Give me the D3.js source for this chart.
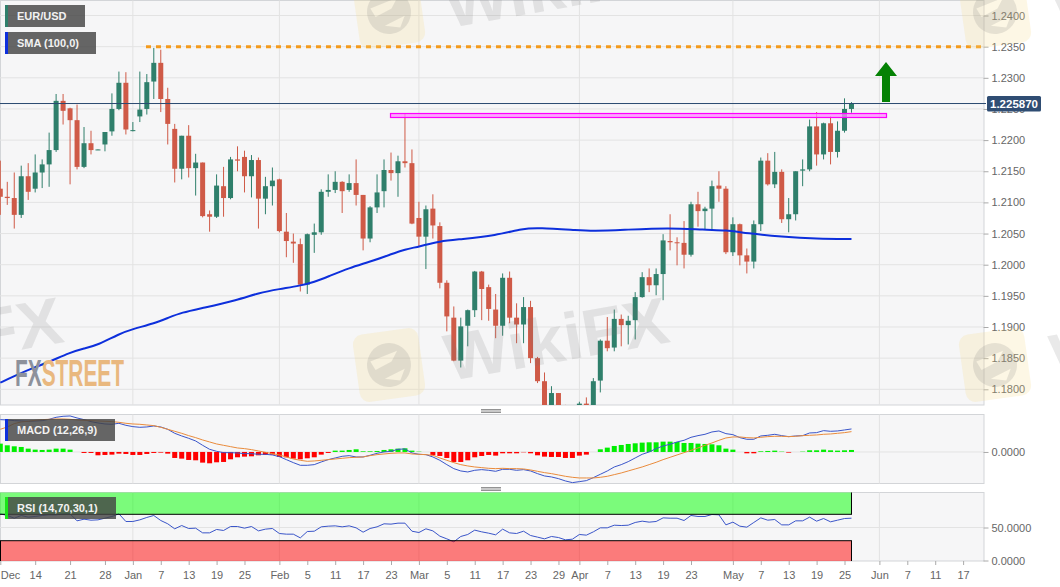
<!DOCTYPE html>
<html>
<head>
<meta charset="utf-8">
<script src="https://cdn.jsdelivr.net/npm/d3@7"></script>
<style>
  html, body { margin: 0; padding: 0; background: #fff; overflow: hidden; }
  text { font-family: "Liberation Sans", Arial, sans-serif; }
  .axis path { display: none; }
  .axis line { stroke: #aaa; }
  .axis text { fill: #666; font-size: 11px; }
</style>
</head>
<body>
<div id="chart"></div>
<script>
// daily candles, one entry per bar
var opens = [
  1.2122,1.2109,1.2107,1.2080,1.2142,1.2122,1.2148,1.2161,1.2184,1.2263,
  1.2251,1.2232,1.2157,1.2195,1.2184,1.2193,1.2214,1.2250,1.2292,1.2215,
  1.2238,1.2250,1.2294,1.2324,1.2266,1.2218,1.2154,1.2207,1.2155,1.2164,
  1.2081,1.2077,1.2126,1.2107,1.2169,1.2173,1.2142,1.2168,1.2106,1.2126,
  1.2137,1.2053,1.2037,1.2033,1.1968,1.2048,1.2052,1.2117,1.2120,1.2133,
  1.2120,1.2131,1.2112,1.2042,1.2092,1.2118,1.2152,1.2147,1.2166,1.2163,
  1.2075,1.2045,1.2090,1.2062,1.1971,1.1915,1.1846,1.1902,1.1927,1.1989,
  1.1964,1.1928,1.1902,1.1979,1.1915,1.1904,1.1932,1.1850,1.1813,1.1760,
  1.1794,1.1772,1.1745,1.1755,1.1777,1.1762,1.1814,1.1878,1.1867,1.1913,
  1.1903,1.1911,1.1948,1.1980,1.1967,1.1985,1.2038,1.2036,1.2035,1.2016,
  1.2097,1.2086,1.2090,1.2127,1.2122,1.2020,1.2065,1.2015,1.2005,1.2065,
  1.2167,1.2129,1.2149,1.2073,1.2081,1.2151,1.2153,1.2222,1.2177,1.2227,
  1.2181,1.2215,1.2250];
var highs = [
  1.2167,1.2133,1.2148,1.2159,1.2163,1.2177,1.2169,1.2212,1.2274,1.2274,
  1.2252,1.2257,1.2221,1.2215,1.2185,1.2213,1.2275,1.2310,1.2309,1.2229,
  1.2310,1.2306,1.2348,1.2345,1.2284,1.2226,1.2207,1.2224,1.2178,1.2164,
  1.2087,1.2145,1.2157,1.2173,1.2190,1.2183,1.2176,1.2172,1.2141,1.2156,
  1.2138,1.2083,1.2050,1.2042,1.2050,1.2066,1.2121,1.2145,1.2150,1.2134,
  1.2145,1.2169,1.2112,1.2094,1.2145,1.2169,1.2180,1.2175,1.2242,1.2185,
  1.2101,1.2095,1.2113,1.2068,1.1975,1.1933,1.1915,1.1928,1.1990,1.1990,
  1.1968,1.1953,1.1986,1.1989,1.1938,1.1948,1.1942,1.1852,1.1827,1.1805,
  1.1794,1.1775,1.1770,1.1780,1.1787,1.1818,1.1880,1.1916,1.1928,1.1920,
  1.1918,1.1956,1.1988,1.1994,1.1994,1.2049,1.2081,1.2044,1.2070,1.2101,
  1.2117,1.2093,1.2135,1.2150,1.2126,1.2076,1.2066,1.2026,1.2071,1.2172,
  1.2179,1.2181,1.2153,1.2107,1.2150,1.2169,1.2233,1.2245,1.2228,1.2238,
  1.2230,1.2267,1.2261];
var lows = [
  1.2080,1.2096,1.2058,1.2075,1.2104,1.2116,1.2123,1.2125,1.2181,1.2225,
  1.2129,1.2153,1.2155,1.2177,1.2184,1.2182,1.2207,1.2248,1.2209,1.2214,
  1.2229,1.2241,1.2266,1.2245,1.2193,1.2132,1.2137,1.2140,1.2111,1.2076,
  1.2053,1.2075,1.2077,1.2105,1.2150,1.2116,1.2108,1.2058,1.2081,1.2095,
  1.2052,1.2012,1.2003,1.1957,1.1953,1.2019,1.2048,1.2109,1.2115,1.2083,
  1.2117,1.2095,1.2023,1.2036,1.2083,1.2092,1.2135,1.2109,1.2156,1.2065,
  1.2029,1.1993,1.2042,1.1962,1.1893,1.1845,1.1835,1.1869,1.1916,1.1911,
  1.1910,1.1882,1.1886,1.1906,1.1874,1.1874,1.1842,1.1810,1.1750,1.1748,
  1.1745,1.1740,1.1735,1.1748,1.1755,1.1752,1.1795,1.1861,1.1861,1.1869,
  1.1872,1.1880,1.1947,1.1956,1.1951,1.1943,1.2023,1.1999,1.1994,1.2013,
  1.2061,1.2057,1.2057,1.2101,1.2017,1.2014,1.1999,1.1986,1.1994,1.2054,
  1.2127,1.2123,1.2067,1.2052,1.2071,1.2126,1.2150,1.2159,1.2169,1.2161,
  1.2172,1.2212,1.2244];
var closes = [
  1.2109,1.2107,1.2080,1.2142,1.2117,1.2148,1.2161,1.2184,1.2263,1.2247,
  1.2232,1.2157,1.2195,1.2184,1.2185,1.2213,1.2250,1.2292,1.2217,1.2216,
  1.2249,1.2293,1.2324,1.2266,1.2226,1.2154,1.2207,1.2155,1.2164,1.2078,
  1.2077,1.2127,1.2107,1.2169,1.2167,1.2142,1.2168,1.2106,1.2126,1.2135,
  1.2054,1.2038,1.2034,1.1968,1.2049,1.2052,1.2117,1.2120,1.2133,1.2118,
  1.2131,1.2112,1.2042,1.2092,1.2116,1.2152,1.2147,1.2166,1.2163,1.2066,
  1.2045,1.2089,1.2063,1.1971,1.1917,1.1846,1.1901,1.1927,1.1989,1.1961,
  1.1929,1.1902,1.1979,1.1915,1.1904,1.1932,1.1850,1.1813,1.1760,1.1794,
  1.1755,1.1745,1.1755,1.1777,1.1762,1.1813,1.1878,1.1866,1.1913,1.1903,
  1.1910,1.1948,1.1980,1.1967,1.1985,1.2039,1.2036,1.2035,1.2016,1.2097,
  1.2086,1.2090,1.2126,1.2122,1.2020,1.2065,1.2015,1.2005,1.2065,1.2167,
  1.2129,1.2149,1.2073,1.2081,1.2150,1.2153,1.2222,1.2177,1.2227,1.2181,
  1.2215,1.2250,1.22587];

// SMA (100,0) read at these bars
var smaBars = [0,2,5,7,10,12,14,17,19,22,24,26,29,34,37,40,43,45,47,50,53,56,58,60,63,66,71,75,77,83,85,89,96,101,104,107,112,117,122];
var smaValues = [1.18106,1.18213,1.18358,1.18438,1.18591,1.18655,1.18711,1.18888,1.18968,1.19056,1.19144,1.19233,1.19305,1.19433,1.19546,1.1961,1.19663,1.19722,1.19811,1.19947,1.20048,1.20167,1.20247,1.20289,1.2038,1.20408,1.20469,1.20584,1.20594,1.20552,1.20541,1.20557,1.20594,1.20557,1.20557,1.20504,1.2045,1.20417,1.20413];

// MACD (12,26,9), in 1e-5
var macdLine = [
  97,96,94,93,92,93,94,98,104,107,108,102,97,91,87,84,83,86,80,76,
  74,75,78,75,68,56,48,41,33,20,8,2,-2,-2,-3,-5,-5,-7,-7,-9,
  -14,-23,-32,-40,-40,-38,-30,-23,-18,-13,-11,-15,-15,-10,-4,0,2,8,9,-3,
  -7,-8,-15,-25,-38,-50,-57,-60,-55,-53,-55,-58,-52,-52,-55,-53,-57,-65,-72,-75,
  -80,-87,-92,-89,-86,-77,-67,-57,-45,-38,-29,-18,-7,0,10,18,23,30,35,44,
  49,53,60,63,55,52,43,38,38,48,50,53,49,46,48,49,57,58,64,62,
  63,66,69];
var signalLine = [
  68,75,85,90,92,95,97,98,99,99,98,96,95,94,93,92,91,89,86,84,
  83,81,79,74,68,62,56,49,43,36,30,24,20,16,12,10,7,3,-1,-5,
  -9,-15,-21,-25,-28,-27,-25,-23,-21,-19,-17,-16,-15,-11,-8,-6,-4,-3,-3,-6,
  -7,-8,-10,-18,-25,-32,-38,-42,-45,-47,-49,-50,-49,-50,-50,-51,-54,-58,-62,-65,
  -69,-73,-76,-78,-78,-78,-76,-73,-68,-63,-57,-51,-45,-38,-31,-23,-16,-9,-2,5,
  12,20,27,35,42,45,45,43,42,44,46,47,47,46,47,49,50,51,53,54,
  56,58,61];
var macdHist = [
  25,20,17,15,10,7,6,7,10,10,7,0,-3,-3,-10,-9,-8,-5,-6,-9,
  -9,-6,-3,-2,-5,-18,-20,-24,-25,-32,-34,-31,-30,-22,-16,-14,-13,-10,-9,-8,
  -15,-16,-20,-22,-19,-16,-8,-3,4,4,6,8,2,2,3,6,8,10,11,4,
  1,0,-10,-12,-18,-30,-30,-25,-16,-12,-9,-11,-4,-4,-4,-1,-4,-10,-14,-15,
  -15,-18,-18,-11,-8,0,8,13,18,21,24,26,28,29,29,31,31,30,27,27,
  25,24,23,20,10,7,0,-4,-4,2,3,4,1,-2,0,1,5,5,7,5,
  4,5,6];

// RSI (14,70,30,1)
var rsiValues = [
  70.7,68.2,64.1,68.2,65.7,66.7,68.2,69.2,69.2,70.7,70.7,60.1,62.6,61.1,61.6,64.1,66.7,70.7,59.1,59.1,
  61.6,65.2,68.2,60.6,55.6,48,53,48.5,49,41.9,41.9,47,45.5,51.5,51.5,49,51.5,44.9,47.5,48.5,
  40.9,39.9,39.9,34.3,43.9,44.4,51,52,52.5,51,52.5,49.5,42.9,48.5,51,55.6,55.1,56.6,56.6,44.4,
  42.4,48,44.9,36.9,32.8,28.3,36.4,39.4,46,43.4,41.4,38.9,47.5,41.9,40.9,44.4,37.9,35.4,32.8,36.4,
  34.8,31.3,32.3,39.4,38.4,43.4,49.5,49.5,53.5,53,53.5,57.6,59.6,58.1,59.1,64.6,64.1,64.1,60.6,68.2,
  66.7,66.7,69.7,69.2,54,58.1,52,50.5,57.6,64.6,61.1,62.1,54,54,60.1,60.1,65.7,59.6,63.6,58.6,
  61.1,63.6,64.1];

// time axis labels, by bar number
var tickBars = [0,5,10,15,19,23,27,31,35,40,44,48,52,56,60,64,68,72,76,80,83,87,91,95,99,105,109,113,117,121,126,130,134,138];
var tickLabels = ["Dec","14","21","28","Jan","7","13","19","25","Feb","5","11","17","23","Mar","5","11","17","23","29","Apr","7","13","19","23","May","7","13","19","25","Jun","7","11","17"];
var monthBars = [0,19,40,60,83,105,126];

var priceTicks = [1.24,1.235,1.23,1.225,1.22,1.215,1.21,1.205,1.20,1.195,1.19,1.185,1.18];
var lastPrice = 1.22587;
var resistance = 1.235;
var support = 1.224;

var width = 1060, height = 587, plotRight = 983.5;
var greenCandle = "#2f7f6b", redCandle = "#cf5a47";

var svg = d3.select("#chart").append("svg")
    .attr("width", width)
    .attr("height", height)
    .style("display", "block");

var x = d3.scaleLinear().domain([0, 143]).range([0.3, 998]);
var y = d3.scaleLinear().domain([1.24, 1.18]).range([15.5, 389.3]);
var yMacd = d3.scaleLinear().domain([-94, 110]).range([483.3, 415.3]);
var yRsi = d3.scaleLinear().domain([0, 100]).range([560.5, 494.5]);

var panels = [
  {id: "main", top: 0.5, bottom: 405},
  {id: "macd", top: 414.5, bottom: 483.5},
  {id: "rsi", top: 492.5, bottom: 561}
];

// panel backgrounds, borders and month lines
panels.forEach(function(p) {
  svg.append("clipPath").attr("id", "clip-" + p.id)
    .append("rect")
      .attr("x", 0).attr("y", p.top)
      .attr("width", plotRight).attr("height", p.bottom - p.top);
  svg.append("rect")
      .attr("x", 0.5).attr("y", p.top)
      .attr("width", plotRight).attr("height", p.bottom - p.top)
      .attr("fill", "#f6f6f7")
      .attr("stroke", "#d3d5d8");
  svg.selectAll(null)
      .data(monthBars.slice(1))
    .enter().append("line")
      .attr("x1", function(d) { return x(d); })
      .attr("x2", function(d) { return x(d); })
      .attr("y1", p.top)
      .attr("y2", p.bottom)
      .attr("stroke", "#e2e2e2");
});

// horizontal grid
svg.selectAll(null)
    .data(priceTicks)
  .enter().append("line")
    .attr("x1", 0).attr("x2", plotRight)
    .attr("y1", function(d) { return y(d); })
    .attr("y2", function(d) { return y(d); })
    .attr("stroke", "#e3e3e3");
svg.append("line").attr("x1", 0).attr("x2", plotRight)
    .attr("y1", yMacd(0)).attr("y2", yMacd(0)).attr("stroke", "#e3e3e3");
svg.append("line").attr("x1", 0).attr("x2", plotRight)
    .attr("y1", yRsi(50)).attr("y2", yRsi(50)).attr("stroke", "#e3e3e3");

// axes
svg.append("g").attr("class", "axis")
    .attr("transform", "translate(" + plotRight + ",0)")
    .call(d3.axisRight(y).tickValues(priceTicks).tickSize(5).tickPadding(3).tickFormat(d3.format(".4f")));
svg.append("g").attr("class", "axis")
    .attr("transform", "translate(" + plotRight + ",0)")
    .call(d3.axisRight(yMacd).tickValues([0]).tickSize(5).tickPadding(3).tickFormat(d3.format(".4f")));
svg.append("g").attr("class", "axis")
    .attr("transform", "translate(" + plotRight + ",0)")
    .call(d3.axisRight(yRsi).tickValues([0, 50]).tickSize(5).tickPadding(3).tickFormat(d3.format(".4f")));
var timeAxis = svg.append("g").attr("class", "axis")
    .attr("transform", "translate(0,561)")
    .call(d3.axisBottom(x).tickValues(tickBars).tickSize(4).tickPadding(6)
      .tickFormat(function(d, i) { return tickLabels[i]; }));
// first label sits against the left edge
timeAxis.select(".tick text").attr("text-anchor", "start").attr("x", 0);

// candles
var bars = d3.range(opens.length);
var candles = svg.append("g").attr("clip-path", "url(#clip-main)");
candles.selectAll("line.wick")
    .data(bars)
  .enter().append("line")
    .attr("class", "wick")
    .attr("x1", function(i) { return x(i); })
    .attr("x2", function(i) { return x(i); })
    .attr("y1", function(i) { return y(highs[i]); })
    .attr("y2", function(i) { return y(lows[i]); })
    .attr("stroke", function(i) { return closes[i] >= opens[i] ? greenCandle : redCandle; })
    .attr("stroke-width", 1);
candles.selectAll("rect.body")
    .data(bars)
  .enter().append("rect")
    .attr("class", "body")
    .attr("x", function(i) { return x(i) - 2.5; })
    .attr("width", 5)
    .attr("y", function(i) { return y(Math.max(opens[i], closes[i])); })
    .attr("height", function(i) { return Math.max(1, Math.abs(y(opens[i]) - y(closes[i]))); })
    .attr("fill", function(i) { return closes[i] >= opens[i] ? greenCandle : redCandle; });

// SMA
var smaLine = d3.line()
    .x(function(d) { return x(smaBars[d]); })
    .y(function(d) { return y(smaValues[d]); })
    .curve(d3.curveBasis);
svg.append("path")
    .attr("d", smaLine(d3.range(smaBars.length)))
    .attr("fill", "none")
    .attr("stroke", "#0d2fdc")
    .attr("stroke-width", 2);

// last price line
svg.append("line")
    .attr("x1", 0).attr("x2", 986)
    .attr("y1", y(lastPrice)).attr("y2", y(lastPrice))
    .attr("stroke", "#2a4a70").attr("stroke-width", 1);
svg.append("rect")
    .attr("x", 987).attr("y", y(lastPrice) - 7.5)
    .attr("width", 54).attr("height", 15.5).attr("rx", 1.5)
    .attr("fill", "#2f4d73");
svg.append("text")
    .attr("x", 1014).attr("y", y(lastPrice) + 4)
    .attr("text-anchor", "middle")
    .attr("fill", "#fff").attr("font-size", 11.5).attr("font-weight", "bold")
    .text(d3.format(".6f")(lastPrice) );

// drawn levels
svg.append("line")
    .attr("x1", 146).attr("x2", plotRight)
    .attr("y1", y(resistance)).attr("y2", y(resistance))
    .attr("stroke", "#f59b1c").attr("stroke-width", 3)
    .attr("stroke-dasharray", "5,5");
svg.append("rect")
    .attr("x", 390.5).attr("y", y(support) - 1.68)
    .attr("width", 496).attr("height", 4)
    .attr("fill", "#ff8cff").attr("fill-opacity", 0.75)
    .attr("stroke", "#ff00ff").attr("stroke-width", 1.2);

// arrow
svg.append("path")
    .attr("d", "M886,62L897,76H890V102H882V76H875Z")
    .attr("fill", "#058205");

// MACD
var macdPanel = svg.append("g").attr("clip-path", "url(#clip-macd)");
macdPanel.selectAll("rect")
    .data(bars)
  .enter().append("rect")
    .attr("x", function(i) { return x(i) - 2.5; })
    .attr("width", 5)
    .attr("y", function(i) { return yMacd(Math.max(macdHist[i], 0)); })
    .attr("height", function(i) { return Math.abs(yMacd(macdHist[i]) - yMacd(0)); })
    .attr("fill", function(i) { return macdHist[i] >= 0 ? "#00ee00" : "#ff0000"; });
var lineMacd = d3.line().x(function(d, i) { return x(i); }).y(function(d) { return yMacd(d); });
macdPanel.append("path").attr("d", lineMacd(macdLine))
    .attr("fill", "none").attr("stroke", "#3a55c9").attr("stroke-width", 1);
macdPanel.append("path").attr("d", lineMacd(signalLine))
    .attr("fill", "none").attr("stroke", "#e98b3c").attr("stroke-width", 1);

// RSI
var rsiPanel = svg.append("g").attr("clip-path", "url(#clip-rsi)");
var lineRsi = d3.line().x(function(d, i) { return x(i); }).y(function(d) { return yRsi(d); });
rsiPanel.append("path").attr("d", lineRsi(rsiValues))
    .attr("fill", "none").attr("stroke", "#3a55c9").attr("stroke-width", 1);
rsiPanel.append("rect")
    .attr("x", -2).attr("width", x(122) + 2)
    .attr("y", 490).attr("height", yRsi(70) - 490)
    .attr("fill", "#00ff00").attr("fill-opacity", 0.5)
    .attr("stroke", "#000");
rsiPanel.append("rect")
    .attr("x", 0.5).attr("width", x(122) - 0.5)
    .attr("y", yRsi(30)).attr("height", 25)
    .attr("fill", "#ff0000").attr("fill-opacity", 0.5)
    .attr("stroke", "#000");

// panel splitters
[409, 487].forEach(function(top) {
  d3.range(3).forEach(function(k) {
    svg.append("line")
      .attr("x1", 481).attr("x2", 501)
      .attr("y1", top + k * 1.5 + 0.5).attr("y2", top + k * 1.5 + 0.5)
      .attr("stroke", "#777").attr("stroke-width", 0.8);
  });
});

// legend labels
var legends = [
  {label: "EUR/USD", x: 5, y: 5, w: 80, color: "#2f7f6b"},
  {label: "SMA (100,0)", x: 5, y: 32, w: 91, color: "#0d2fdc"},
  {label: "MACD (12,26,9)", x: 5, y: 419, w: 110, color: "#0d2fdc"},
  {label: "RSI (14,70,30,1)", x: 5, y: 497, w: 111, color: "#19e619"}
];
legends.forEach(function(d) {
  svg.append("rect")
      .attr("x", d.x).attr("y", d.y).attr("width", d.w).attr("height", 22)
      .attr("fill", "#444").attr("fill-opacity", 0.82);
  svg.append("rect")
      .attr("x", d.x).attr("y", d.y).attr("width", 3).attr("height", 22)
      .attr("fill", d.color);
  svg.append("text")
      .attr("x", d.x + 12).attr("y", d.y + 15)
      .attr("fill", "#f2f2f2").attr("font-size", 11).attr("font-weight", "bold")
      .text(d.label);
});

// FXStreet logo
var logo = svg.append("text")
    .attr("x", 15).attr("y", 385.5)
    .attr("font-size", 36).attr("font-weight", "bold")
    .attr("textLength", 109).attr("lengthAdjust", "spacingAndGlyphs");
logo.append("tspan").attr("fill", "#8d919b").text("FX");
logo.append("tspan").attr("fill", "#e9b87f").text("STREET");

// WikiFX watermark, repeated across the page
[[-606, 0], [0, 0], [606, 0], [0, -353], [606, -353]].forEach(function(o) {
  svg.append("text")
      .attr("transform", "translate(" + (449 + o[0]) + "," + (381 + o[1]) + ") rotate(-10)")
      .attr("font-size", 66).attr("font-weight", "bold")
      .attr("textLength", 226).attr("lengthAdjust", "spacingAndGlyphs")
      .attr("fill", "#777").attr("fill-opacity", 0.16)
      .text("WikiFX");
});
[[0, 0], [606, 0], [0, -353], [606, -353]].forEach(function(o) {
  var g = svg.append("g")
      .attr("transform", "translate(" + (389 + o[0]) + "," + (365 + o[1]) + ") rotate(-8)");
  g.append("rect")
      .attr("x", -33).attr("y", -34).attr("width", 66).attr("height", 68).attr("rx", 10)
      .attr("fill", "#f5d98a").attr("fill-opacity", 0.22);
  // round emblem with two cut-outs
  g.append("path")
      .attr("d", "M-22,0A22,22 0 1 1 22,0A22,22 0 1 1 -22,0Z" +
                 "M-18,-6L10,-13L3,-3L-14,3Z" +
                 "M-6,13L15,6L9,17Z")
      .attr("fill-rule", "evenodd")
      .attr("fill", "#777").attr("fill-opacity", 0.17);
});
</script>
</body>
</html>
